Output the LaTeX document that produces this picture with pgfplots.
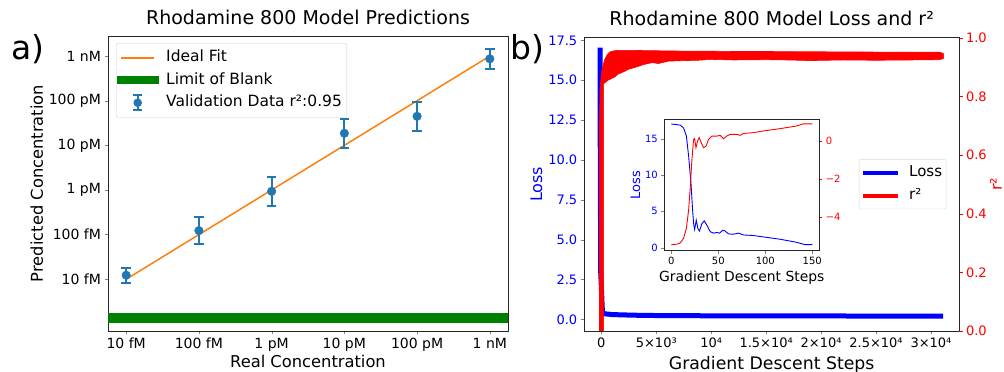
\documentclass[border=0pt]{standalone}
\usepackage{pgfplots}
\pgfplotsset{compat=1.18}
\usepackage{fontspec}
\setmainfont{DejaVu Sans}
\definecolor{tabblue}{HTML}{1F77B4}
\definecolor{taborange}{HTML}{FF7F0E}
\definecolor{mplgreen}{HTML}{008000}
\definecolor{mplblue}{HTML}{0000FF}
\definecolor{mplred}{HTML}{FF0000}
\pgfplotsset{
  every axis/.append style={
    scale only axis,
    anchor=south west,
    tick align=outside,
    major tick length=3.5pt,
    axis line style={black!85},
    /pgf/number format/assume math mode=true,
  },
}
\begin{document}
\begin{tikzpicture}
\useasboundingbox (0pt,0pt) rectangle (1004pt,372pt);

% ---------------- panel a ----------------
\begin{axis}[
  at={(108pt,41pt)}, width=400pt, height=295pt,
  xmin=-14.25, xmax=-8.75, ymin=-15.16, ymax=-8.55,
  xtick={-14,-13,-12,-11,-10,-9},
  xticklabels={10 fM,100 fM,1 pM,10 pM,100 pM,1 nM},
  ytick={-14,-13,-12,-11,-10,-9},
  yticklabels={10 fM,100 fM,1 pM,10 pM,100 pM,1 nM},
  xtick pos=bottom, ytick pos=left,
  tick label style={font=\fontsize{14}{16}\selectfont},
  title={Rhodamine 800 Model Predictions},
  title style={font=\fontsize{19}{22}\selectfont, at={(axis description cs:0.5,1.018)}, anchor=base},
  xlabel={Real Concentration},
  xlabel style={font=\fontsize{16.3}{19}\selectfont, at={(axis description cs:0.5,-0.1254)}, anchor=base},
  ylabel={Predicted Concentration},
  ylabel style={font=\fontsize{16.3}{19}\selectfont, at={(axis description cs:-0.1625,0.5)}, anchor=base, rotate=0},
  legend style={at={(axis description cs:0.02,0.976)}, anchor=north west,
    draw=black!20, rounded corners=2pt, fill=white,
    font=\fontsize{15.5}{18}\selectfont,
    nodes={inner sep=0pt, text height=11.5pt, text depth=3.5pt},
    row sep=7.5pt, column sep=12pt, inner xsep=5pt, inner ysep=7pt},
  legend cell align=left,
]
\addlegendimage{legend image code/.code={\path[draw=none,fill=none] (0pt,-4pt) rectangle (33pt,4pt); \draw[overlay,taborange,line width=1.5pt,rounded corners=0pt] (0pt,0pt)--(33pt,0pt);}}
\addlegendentry{Ideal Fit}
\addlegendimage{legend image code/.code={\path[draw=none,fill=none] (0pt,-4pt) rectangle (33pt,4pt); \draw[overlay,mplgreen,line width=8pt,rounded corners=0pt] (-4.5pt,0pt)--(37.5pt,0pt);}}
\addlegendentry{Limit of Blank}
\addlegendimage{legend image code/.code={\path[draw=none,fill=none] (0pt,-4pt) rectangle (33pt,4pt);
  \draw[overlay,tabblue,line width=2pt,rounded corners=0pt] (16.5pt,-7.5pt)--(16.5pt,7.5pt) (12pt,7.5pt)--(21pt,7.5pt) (12pt,-7.5pt)--(21pt,-7.5pt);
  \fill[overlay,tabblue,draw=none] (16.5pt,0pt) circle (4.3pt);}}
\addlegendentry{Validation Data r²:0.95}

\addplot[mplgreen, line width=10pt, forget plot] coordinates {(-14.25,-14.86) (-8.75,-14.86)};
\addplot[taborange, line width=1.5pt, forget plot] coordinates {(-14,-14) (-9,-9)};
\addplot[tabblue, only marks, mark=*, mark size=4.3pt,
  mark options={draw=tabblue, fill=tabblue},
  error bars/.cd, y dir=both, y explicit,
  error bar style={line width=2pt, tabblue},
  error mark options={rotate=90, mark size=4.7pt, line width=2pt, tabblue}] coordinates {
  (-14,-13.91) += (0,0.16) -= (0,0.17)
  (-13,-12.91) += (0,0.30) -= (0,0.31)
  (-12,-12.03) += (0,0.33) -= (0,0.34)
  (-11,-10.73) += (0,0.33) -= (0,0.34)
  (-10,-10.35) += (0,0.31) -= (0,0.32)
  (-9,-9.06) += (0,0.21) -= (0,0.22)
};
\end{axis}

% ---------------- panel b: loss ----------------
\begin{axis}[
  at={(584.3pt,41pt)}, width=374.7pt, height=293.3pt,
  xmin=-1550, xmax=32550, ymin=-0.73, ymax=17.67,
  xtick={0,5000,10000,15000,20000,25000,30000},
  xticklabels={0,5×10³,10⁴,1.5×10⁴,2×10⁴,2.5×10⁴,3×10⁴},
  scaled x ticks=false,
  ytick={0,2.5,5,7.5,10,12.5,15,17.5},
  yticklabel style={mplblue, /pgf/number format/.cd, fixed, fixed zerofill, precision=1},
  xtick pos=bottom, ytick pos=left,
  tick label style={font=\fontsize{13}{15}\selectfont},
  title={Rhodamine 800 Model Loss and r²},
  title style={font=\fontsize{19}{22}\selectfont, at={(axis description cs:0.5,1.0205)}, anchor=base},
  xlabel={Gradient Descent Steps},
  xlabel style={font=\fontsize{17.3}{20}\selectfont, at={(axis description cs:0.5,-0.1296)}, anchor=base},
  ylabel={Loss},
  ylabel style={mplblue, font=\fontsize{16}{19}\selectfont, at={(axis description cs:-0.1129,0.5)}, anchor=base},
]
\addplot[mplblue, line width=5pt, line join=round, line cap=butt] coordinates {
  (-120,17.05) (-120,15) (-60,3) (100,0.45) (300,0.35) (1000,0.3) (3000,0.26)
  (6000,0.23) (15000,0.22) (31100,0.2)
};
\end{axis}

% ---------------- panel b: r2 ----------------
\begin{axis}[
  at={(584.3pt,41pt)}, width=374.7pt, height=293.3pt,
  xmin=-1550, xmax=32550, ymin=0, ymax=1,
  axis x line=none, axis y line*=right,
  ytick={0,0.2,0.4,0.6,0.8,1},
  yticklabel style={mplred, /pgf/number format/.cd, fixed, fixed zerofill, precision=1},
  y tick style={mplred},
  tick label style={font=\fontsize{13}{15}\selectfont},
  ylabel={r²},
  ylabel style={mplred, font=\fontsize{16}{19}\selectfont, at={(axis description cs:1.1145,0.5)}, anchor=base, rotate=0},
  legend style={at={(axis description cs:0.733,0.586)}, anchor=north west,
    draw=black!15, rounded corners=2pt, fill=white,
    font=\fontsize{15}{18}\selectfont,
    nodes={inner sep=0pt, text height=11.5pt, text depth=3.5pt},
    row sep=7.7pt, column sep=11pt, inner xsep=4pt, inner ysep=6pt},
  legend cell align=left,
]
\addlegendimage{legend image code/.code={\path[draw=none,fill=none] (0pt,-4pt) rectangle (35pt,4pt); \draw[overlay,mplblue,line width=4pt,rounded corners=0pt] (0pt,0pt)--(35pt,0pt);}}
\addlegendentry{Loss}
\addlegendimage{legend image code/.code={\path[draw=none,fill=none] (0pt,-4pt) rectangle (35pt,4pt); \draw[overlay,mplred,line width=4pt,rounded corners=0pt] (0pt,0pt)--(35pt,0pt);}}
\addlegendentry{r²}
\addplot[mplred, fill=mplred, line width=0.6pt, line join=round, forget plot] coordinates {
  (-170,-0.1) (-170,0.70) (-120,0.82) (0,0.88) (150,0.905) (300,0.925) (500,0.94)
  (760,0.951) (1100,0.955) (1520,0.957) (2500,0.957) (4000,0.956) (6000,0.955)
  (8000,0.954) (10000,0.954) (12000,0.953) (15000,0.953) (18000,0.952) (20000,0.952)
  (25000,0.951) (28000,0.951) (30800,0.951) (31150,0.945) (31150,0.930) (30800,0.925)
  (28000,0.924) (25000,0.923) (22000,0.924) (19000,0.922) (17000,0.924) (15000,0.925)
  (12000,0.924) (10000,0.926) (8800,0.923) (7600,0.922) (6100,0.920) (5200,0.912)
  (4600,0.915) (3800,0.908) (3350,0.902) (3000,0.898) (2440,0.892) (2100,0.885)
  (1800,0.880) (1520,0.876) (1220,0.866) (900,0.860) (600,0.855) (400,0.849)
  (210,0.843) (210,0.5) (200,-0.1)
} -- cycle;
\end{axis}

% ---------------- inset: loss ----------------
\begin{axis}[
  at={(664.3pt,121.3pt)}, width=155pt, height=131.4pt,
  axis background/.style={fill=white},
  xmin=-7.5, xmax=157.5, ymin=-0.42, ymax=17.7,
  xtick={0,50,100,150}, ytick={0,5,10,15},
  xtick pos=bottom, ytick pos=left,
  major tick length=3pt,
  tick label style={font=\fontsize{10}{12}\selectfont},
  yticklabel style={mplblue},
  xlabel={Gradient Descent Steps},
  xlabel style={font=\fontsize{13.9}{16}\selectfont, at={(axis description cs:0.5,-0.2367)}, anchor=base},
  ylabel={Loss},
  ylabel style={mplblue, font=\fontsize{13}{15}\selectfont, at={(axis description cs:-0.1568,0.5)}, anchor=base},
]
\addplot[mplblue, line width=0.9pt] coordinates {
  (0,17.04) (5,16.98) (9.5,16.9) (13,16.5) (16,15.4) (18.4,12.6) (20.9,8.9) (22.6,5.2)
  (23.7,3.3) (24.8,2.5) (26.5,3.8) (28.3,2.6) (30,2.3) (32.5,3.3) (35,3.7) (37.8,3.1)
  (41.4,2.2) (45,2.0) (48.5,2.1) (51.3,2.0) (54.8,2.4) (57.3,2.3) (60.8,1.9) (66,1.85)
  (71.5,2.0) (76.8,1.75) (87.4,1.67) (98,1.48) (115.7,1.16) (133.4,0.74) (142,0.42) (150,0.42)
};
\end{axis}

% ---------------- inset: r2 ----------------
\begin{axis}[
  at={(664.3pt,121.3pt)}, width=155pt, height=131.4pt,
  xmin=-7.5, xmax=157.5, ymin=-5.75, ymax=1.14,
  axis x line=none, axis y line*=right,
  major tick length=3pt,
  ytick={-4,-2,0}, yticklabels={−4,−2,0},
  y tick style={mplred},
  tick label style={font=\fontsize{10}{12}\selectfont},
  yticklabel style={mplred},
]
\addplot[mplred, line width=0.9pt] coordinates {
  (0,-5.43) (6,-5.41) (9.5,-5.34) (13,-5.1) (16,-4.58) (18.4,-3.61) (20.2,-2.38) (21.9,-0.97)
  (23.7,0.09) (24.8,0.12) (26.2,-0.35) (27.9,0.0) (29.7,0.18) (31.8,-0.09) (34.3,-0.35)
  (37.1,-0.26) (39.6,0.09) (43.2,0.26) (48.5,0.26) (52,0.3) (55.5,0.12) (59,0.26)
  (62.6,0.35) (69.7,0.35) (73.2,0.3) (76.8,0.4) (87.4,0.44) (98,0.53) (115.7,0.65)
  (133.4,0.79) (140.4,0.9) (150,0.9)
};
\end{axis}

\node[anchor=base west, inner sep=0pt, font=\fontsize{33}{40}\selectfont] at (11pt,312pt) {a)};
\node[anchor=base west, inner sep=0pt, font=\fontsize{33}{40}\selectfont] at (510pt,312pt) {b)};
\end{tikzpicture}
\end{document}
